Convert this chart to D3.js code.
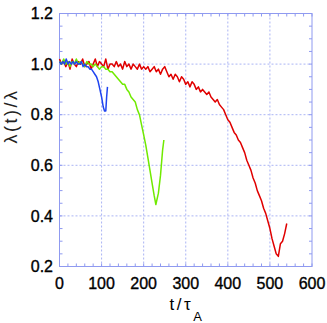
<!DOCTYPE html>
<meta charset="utf-8">
<style>
    body { margin: 0; background: #fff; }
    text { font-family: "Liberation Sans", Arial, sans-serif; fill: #000; }
    text.num { stroke: #000; stroke-width: 0.35; }
    .grid line { stroke: #aab4f4; stroke-width: 1; stroke-dasharray: 2,2; }
    .frame { fill: none; stroke: #8f9af0; stroke-width: 1; }
    .tick line { stroke: #8f9af0; stroke-width: 1; }
    path.series { fill: none; stroke-width: 1.5; stroke-linejoin: round; }
</style>
<body>
<script src="https://d3js.org/d3.v7.min.js"></script>
<script>
    // tick labels
    var xTicks = [0, 100, 200, 300, 400, 500, 600];
    var yTicks = [0.2, 0.4, 0.6, 0.8, 1.0, 1.2];

    // red run: sampled every 5 tau_A starting at 0
    var redT0 = 0, redStep = 5;
    var redValues = [
        1.02, 1.00, 1.01, 0.99, 1.01, 0.98, 1.02, 1.00, 0.99, 1.01, 1.00, 1.02, 0.99, 1.00, 1.01, 0.98, 1.00, 1.02, 0.99, 1.01, 1.00,
        0.99, 1.02, 0.98, 1.00, 1.00, 0.99, 1.01, 0.99, 1.00, 0.98, 1.01, 0.99, 1.00, 0.98, 1.00, 0.99, 0.98, 1.00, 0.98, 0.99,
        0.98, 0.99, 0.97, 0.98, 0.99, 0.97, 0.98, 0.96, 0.98, 0.99, 0.97, 0.95, 0.96, 0.94, 0.96, 0.95, 0.93, 0.95, 0.94, 0.92,
        0.93, 0.91, 0.93, 0.92, 0.90, 0.91, 0.89, 0.90, 0.89, 0.88, 0.89, 0.87, 0.86, 0.85, 0.86, 0.84, 0.83, 0.82, 0.80, 0.78,
        0.77, 0.75, 0.73, 0.72, 0.70, 0.69, 0.67, 0.65, 0.62, 0.60, 0.58, 0.55, 0.53, 0.50, 0.48, 0.46, 0.43, 0.41, 0.38, 0.35,
        0.31, 0.28, 0.25, 0.24, 0.29, 0.30, 0.33, 0.37
    ];

    // green run
    var greenT = [0, 5, 10, 15, 20, 25, 30, 35, 40, 45, 50, 55, 60, 65, 70, 75, 80, 85, 90, 95, 100,
        105, 110, 115, 120, 125, 130, 135, 140, 145, 150, 155, 160, 165, 170, 175, 180, 185, 190, 195, 200,
        205, 210, 215, 220, 225, 229, 235, 240, 245, 248];
    var greenValues = [1.01, 1.00, 1.02, 1.00, 1.01, 0.99, 1.01, 1.00, 1.02, 1.00, 1.01, 1.00, 0.99, 1.01, 1.00, 1.00, 0.99, 1.00, 0.99, 0.98, 0.99,
        0.99, 0.98, 0.98, 0.97, 0.97, 0.96, 0.95, 0.94, 0.93, 0.92, 0.92, 0.90, 0.89, 0.87, 0.86, 0.85, 0.82, 0.80, 0.76, 0.72,
        0.68, 0.63, 0.58, 0.53, 0.48, 0.445, 0.49, 0.56, 0.66, 0.70];

    // blue run
    var blueT = [0, 4, 8, 12, 16, 20, 24, 28, 32, 36, 40, 44, 48, 52, 56, 60, 64, 68, 72, 76, 80, 84, 88, 92, 96, 100, 104, 107, 110, 112, 114];
    var blueValues = [1.01, 1.00, 1.01, 1.00, 1.02, 1.00, 1.01, 1.00, 1.01, 1.00, 1.01, 1.00, 1.00, 1.01, 0.99, 1.00, 0.99, 0.99, 0.98, 0.98,
        0.97, 0.96, 0.95, 0.93, 0.90, 0.87, 0.83, 0.815, 0.815, 0.87, 0.91];

    var W = 327, H = 323;
    var x = d3.scaleLinear().domain([0, 600]).range([59.5, 312]);
    var y = d3.scaleLinear().domain([0.2, 1.2]).range([266.5, 13.5]);

    var svg = d3.select("body").append("svg")
            .attr("width", W)
            .attr("height", H);

    // grid
    var grid = svg.append("g").attr("class", "grid");
    grid.selectAll("line.gx").data(xTicks.slice(1, -1)).enter().append("line")
            .attr("x1", d => x(d)).attr("x2", d => x(d))
            .attr("y1", y(1.2)).attr("y2", y(0.2));
    grid.selectAll("line.gy").data(yTicks.slice(1, -1)).enter().append("line")
            .attr("y1", d => y(d)).attr("y2", d => y(d))
            .attr("x1", x(0)).attr("x2", x(600));

    // inward ticks on every side
    var xMinor = d3.range(0, 601, 20);
    var yMinor = d3.range(0.2, 1.2001, 0.05);
    var tk = svg.append("g").attr("class", "tick");
    [[y(0.2), -3], [y(1.2), 3]].forEach(function (s) {
        tk.selectAll(null).data(xMinor).enter().append("line")
                .attr("x1", d => x(d)).attr("x2", d => x(d))
                .attr("y1", s[0]).attr("y2", s[0] + s[1]);
    });
    [[x(0), 3], [x(600), -3]].forEach(function (s) {
        tk.selectAll(null).data(yMinor).enter().append("line")
                .attr("y1", d => y(d)).attr("y2", d => y(d))
                .attr("x1", s[0]).attr("x2", s[0] + s[1]);
    });

    svg.append("rect").attr("class", "frame")
            .attr("x", x(0)).attr("y", y(1.2))
            .attr("width", x(600) - x(0)).attr("height", y(0.2) - y(1.2));

    // series
    var line = d3.line().x(d => x(d[0])).y(d => y(d[1]));
    var red = redValues.map((v, i) => [redT0 + i * redStep, v]);
    var green = greenT.map((t, i) => [t, greenValues[i]]);
    var blue = blueT.map((t, i) => [t, blueValues[i]]);

    svg.append("path").attr("class", "series").attr("stroke", "#e00000").attr("d", line(red));
    svg.append("path").attr("class", "series").attr("stroke", "#70ea00").attr("d", line(green));
    svg.append("path").attr("class", "series").attr("stroke", "#1f44f0").attr("d", line(blue));

    // tick labels
    svg.append("g").selectAll("text").data(xTicks).enter().append("text")
            .attr("class", "num")
            .attr("x", d => x(d)).attr("y", 289)
            .attr("text-anchor", "middle")
            .style("font-size", "16px")
            .text(d => d);
    svg.append("g").selectAll("text").data(yTicks).enter().append("text")
            .attr("class", "num")
            .attr("x", 53).attr("y", d => y(d))
            .attr("dy", "0.35em")
            .attr("text-anchor", "end")
            .style("font-size", "16px")
            .text(d => d.toFixed(1));

    // axis titles
    var xt = svg.append("text")
            .attr("x", 187).attr("y", 310)
            .attr("text-anchor", "middle")
            .style("font-size", "17px")
            .style("letter-spacing", "2.5px");
    xt.append("tspan").text("t/\u03c4");
    xt.append("tspan").attr("dy", 11).style("font-size", "13px").text("A");

    svg.append("text")
            .attr("transform", "translate(17,116) rotate(-90)")
            .attr("text-anchor", "middle")
            .style("font-size", "18px")
            .style("letter-spacing", "2.5px")
            .style("fill", "#222")
            .text("\u03bb(t)/\u03bb");
</script>
